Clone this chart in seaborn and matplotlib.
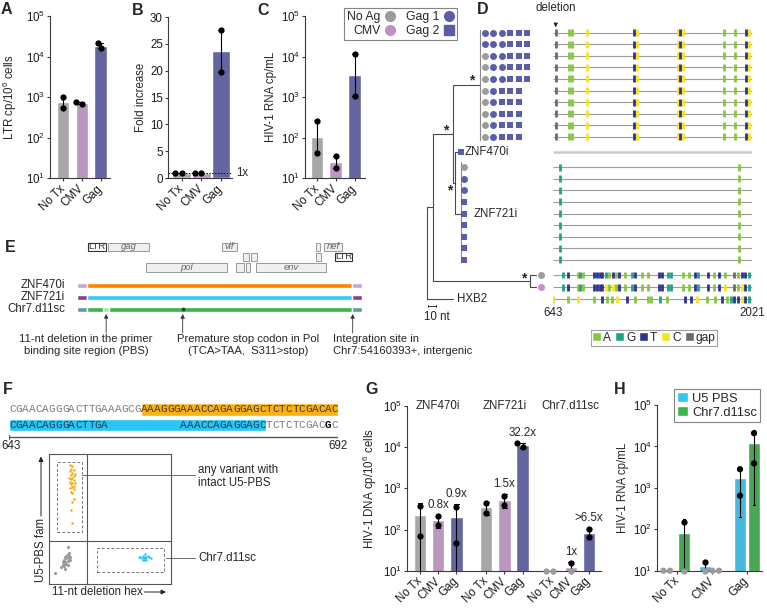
import numpy as np
import pandas as pd
import matplotlib
matplotlib.use("Agg")
import matplotlib.pyplot as plt
from matplotlib.lines import Line2D
from matplotlib.patches import Patch, Rectangle
from matplotlib.ticker import LogFormatterSciNotation, NullLocator
import seaborn as sns

# ---------------- data ----------------
conds = ["No Tx", "CMV", "Gag"]
LOD = 10

# A: LTR copies per 10^6 cells (two donors)
ltr_notx = [1020, 525]
ltr_cmv = [660, 740]
ltr_gag = [21900, 15800]
# B: fold increase
fold_notx = [1.0, 1.0]
fold_cmv = [0.85, 0.85]
fold_gag = [27.5, 19.7]
# C: HIV-1 RNA cp/mL
rna_notx = [255, 41]
rna_cmv = [34, 17.6]
rna_gag = [11400, 1040]

# G: clone specific DNA
clones = ["ZNF470i", "ZNF721i", "Chr7.d11sc"]
znf470_dna = [[370, 70], [212, 129], [347, 46]]
znf721_dna = [[433, 256], [660, 393], [9890, 12300]]
chr7_dna = [[10, 10], [10, 15], [101, 67]]
fold_labels = ["", "0.8x", "0.9x", "", "1.5x", "32.2x", "", "1x", ">6.5x"]

# H: clone specific RNA
h_series = ["U5 PBS", "Chr7.d11sc"]
u5_rna = [[10, 10], [16.5, 10], [2820, 646]]
chr7_rna = [[152, 10], [10, 10], [20900, 3900]]

# D: tree leaves (g = No Ag, p = CMV, b = Gag 1, s = Gag 2)
top_leaves = ["bbbsss", "bbbsss", "gbbsss", "gbbsss", "gbbsss",
              "gbsss", "gbsss", "gbsss", "gbsss", "gbsss"]
low_leaves = ["g", "b", "b", "s", "s", "s", "s", "s", "s"]
pair_leaves = ["g", "p"]
top_mut_pos = [662, 756, 777, 880, 1206, 1227, 1511, 1525, 1546, 1827, 1903, 1977, 1998]
top_mut_base = ["gap", "A", "A", "C", "T", "C", "C", "T", "C", "A", "A", "T", "C"]
low_mut_pos = [691, 1933]
low_mut_base = ["G", "A"]
noag_mut_pos = [710, 749, 814, 832, 853, 929, 948, 966, 985, 1010, 1033, 1056, 1077, 1100,
                1142, 1192, 1211, 1257, 1303, 1377, 1396, 1442, 1460, 1546, 1585, 1626,
                1645, 1714, 1760, 1793, 1834, 1899, 1926, 1950, 1973, 2000]
noag_mut_base = ["G", "T", "A", "G", "A", "T", "T", "T", "T", "G", "A", "T", "A", "T",
                 "A", "G", "T", "A", "A", "T", "T", "G", "G", "A", "A", "T",
                 "G", "T", "A", "T", "A", "gap", "A", "T", "T", "G"]
cmv_mut_pos = [710, 749, 814, 832, 853, 929, 948, 966, 985, 1010, 1033, 1056, 1077, 1100,
               1142, 1192, 1211, 1257, 1303, 1377, 1396, 1442, 1460, 1546, 1585, 1626,
               1645, 1714, 1760, 1793, 1834, 1899, 1926, 1950, 1973, 2000]
cmv_mut_base = ["G", "T", "A", "G", "A", "T", "T", "T", "T", "C", "A", "C", "A", "T",
                "A", "G", "T", "A", "A", "T", "T", "G", "G", "A", "A", "T",
                "G", "T", "A", "T", "C", "gap", "A", "C", "T", "G"]
hxb2_mut_pos = [645, 749, 818, 929, 980, 1015, 1049, 1084, 1153, 1211, 1303, 1322, 1384, 1430,
                1557, 1597, 1638, 1707, 1765, 1811, 1846, 1876, 1899, 1926, 1950, 1972, 2000]
hxb2_mut_base = ["C", "A", "C", "A", "T", "A", "A", "C", "T", "A", "A", "A", "G", "A",
                 "T", "T", "C", "A", "A", "T", "A", "G", "T", "T", "C", "T", "G"]
aln_start, aln_end = 643, 2021

# E: genome map (HXB2 nt)
gene_names = ["LTR", "gag", "vif", "", "nef", "", "", "", "LTR", "pol", "", "", "env"]
gene_start = [26, 790, 4989, 8470, 8778, 5767, 6074, 8470, 9185, 2174, 5519, 5889, 6259]
gene_end = [692, 2292, 5567, 8630, 9456, 6000, 6296, 8650, 9826, 5174, 5826, 6037, 8840]
gene_row = [0, 0, 0, 0, 0, 1, 1, 1, 1, 2, 2, 2, 2]
provirus_names = ["ZNF470i", "ZNF721i", "Chr7.d11sc"]
genome_start, genome_end, flank_len = 0, 9826, 359
pbs_del = (604, 815)
stop_codon = 3544
integration = 9840

# F: sequences
seq_ref = "CGAACAGGGACTTGAAAGCGAAAGGGAAACCAGAGGAGCTCTCTCGACAC"
seq_del = "CGAACAGGGACTTGA           AAACCAGAGGAGCTCTCTCGACGC"
ref_hl = (20, 50)
del_hl = (0, 39)
snp_idx = 48
seq_first, seq_last = 643, 692
orange_x = [0.17, 0.19, 0.18, 0.20, 0.17, 0.19, 0.21, 0.18, 0.20, 0.16, 0.19, 0.18, 0.20, 0.17,
            0.19, 0.21, 0.18, 0.20, 0.19, 0.17, 0.20, 0.18, 0.19, 0.20, 0.19, 0.18, 0.19]
orange_y = [0.92, 0.91, 0.89, 0.88, 0.87, 0.86, 0.85, 0.84, 0.83, 0.82, 0.82, 0.81, 0.80, 0.79,
            0.78, 0.78, 0.77, 0.76, 0.75, 0.74, 0.73, 0.71, 0.70, 0.66, 0.63, 0.57, 0.47]
grey_x = [0.10, 0.11, 0.12, 0.13, 0.12, 0.14, 0.15, 0.13, 0.16, 0.14, 0.15, 0.17, 0.16,
          0.13, 0.11, 0.15, 0.17, 0.14, 0.12, 0.16, 0.157, 0.05]
grey_y = [0.13, 0.15, 0.14, 0.17, 0.19, 0.16, 0.18, 0.21, 0.20, 0.22, 0.23, 0.21, 0.24,
          0.12, 0.17, 0.15, 0.19, 0.20, 0.16, 0.22, 0.29, 0.09]
cyan_x = [0.74, 0.76, 0.77, 0.78, 0.79, 0.80, 0.78, 0.79, 0.81, 0.77, 0.80, 0.82, 0.75, 0.79, 0.84]
cyan_y = [0.21, 0.20, 0.22, 0.21, 0.20, 0.21, 0.19, 0.23, 0.22, 0.19, 0.19, 0.21, 0.21, 0.20, 0.20]

# ---------------- style ----------------
FS = 8.3
sns.set_theme(style="ticks")
plt.rcParams.update({
    "font.family": ["Liberation Sans", "DejaVu Sans"],
    "mathtext.fontset": "custom",
    "mathtext.rm": "Liberation Sans",
    "mathtext.default": "regular",
    "font.size": FS,
    "axes.linewidth": 0.8,
    "axes.edgecolor": "#3a3a3a",
    "xtick.color": "#3a3a3a",
    "ytick.color": "#3a3a3a",
    "xtick.labelcolor": "#1a1a1a",
    "ytick.labelcolor": "#1a1a1a",
    "xtick.major.size": 2.5,
    "ytick.major.size": 2.5,
    "xtick.major.width": 0.8,
    "ytick.major.width": 0.8,
    "ytick.major.pad": 1.0,
    "xtick.labelsize": FS,
    "ytick.labelsize": FS,
    "axes.labelsize": FS,
})

NOTX_C, CMV_C, GAG_C = "#a7a7a7", "#c18fc5", "#5a5daa"
DOT_GREY = "#9b9b9b"
cond_pal = dict(zip(conds, [NOTX_C, CMV_C, GAG_C]))
h_pal = {"U5 PBS": "#2ec6f3", "Chr7.d11sc": "#3ab54a"}
base_col = {"A": "#86c540", "G": "#1ea482", "T": "#2f338f", "C": "#f8e31c", "gap": "#6b6b6b"}
flank_cols = ["#c9a3d4", "#8a3d96", "#5e9c9c"]
body_cols = ["#ff8300", "#33c9f5", "#3bb44a"]
err_kw = {"color": "black", "linewidth": 0.8}

W, H = 767, 612
fig = plt.figure(figsize=(W / 100, H / 100), dpi=100)


def px_axes(l, t, r, b):
    ax = fig.add_axes([l / W, 1 - b / H, (r - l) / W, (b - t) / H])
    ax.set_facecolor("none")
    return ax


def long_df(groups, values):
    return pd.DataFrame([(g, v) for g, vs in zip(groups, values) for v in vs],
                        columns=["cond", "val"])


def sd_clip(v):
    m, s = v.mean(), v.std()
    return (max(m - s, 1.0), m + s)


def log_axis(ax):
    ax.set_yscale("log")
    ax.set_ylim(10, 1e5)
    ax.set_yticks([1e1, 1e2, 1e3, 1e4, 1e5])
    ax.yaxis.set_major_formatter(LogFormatterSciNotation())
    ax.yaxis.set_minor_locator(NullLocator())


def finish(ax, labels, ticks=None):
    sns.despine(ax=ax)
    ax.set_xlabel("")
    ax.set_ylabel("")
    ax.set_xticks(list(range(len(labels))) if ticks is None else list(ticks))
    ax.set_xticklabels(labels, rotation=45, ha="right", va="center", rotation_mode="anchor")
    ax.tick_params(axis="x", pad=4)


dot_kw = dict(size=4.5, clip_on=False, zorder=5)

# ---------------- A ----------------
axA = px_axes(50, 16, 110, 178)
log_axis(axA)
dfA = long_df(conds, [ltr_notx, ltr_cmv, ltr_gag])
sns.barplot(data=dfA, x="cond", y="val", hue="cond", order=conds, palette=cond_pal,
            errorbar=("pi", 100), capsize=0.25, err_kws=err_kw, width=0.65, legend=False, ax=axA)
sns.swarmplot(data=dfA, x="cond", y="val", order=conds, color="black", ax=axA, **dot_kw)
log_axis(axA)
axA.set_xlim(-0.69, 2.5)
finish(axA, conds)
axA.set_ylabel("LTR cp/10$^6$ cells")
axA.yaxis.set_label_coords(-0.52, 0.5)

# ---------------- B ----------------
axB = px_axes(167.7, 17, 232, 178)
dfB = long_df(conds, [fold_notx, fold_cmv, fold_gag])
sns.barplot(data=dfB, x="cond", y="val", hue="cond", order=conds, palette=cond_pal,
            errorbar=("pi", 100), capsize=0.25, err_kws=err_kw, width=0.95, legend=False, ax=axB)
axB.axhline(1, color="black", lw=0.7, ls=(0, (1.5, 1.5)), zorder=1)
sns.swarmplot(data=dfB, x="cond", y="val", order=conds, color="black", ax=axB, **dot_kw)
axB.set_ylim(0, 30)
axB.set_yticks(range(0, 31, 5))
axB.set_xlim(-0.7, 2.56)
finish(axB, conds)
axB.text(2.75, 1, "1x", ha="left", va="center", fontsize=FS)
axB.set_ylabel("Fold increase")
axB.yaxis.set_label_coords(-0.32, 0.5)

# ---------------- C ----------------
axC = px_axes(305, 16, 365, 178)
log_axis(axC)
dfC = long_df(conds, [rna_notx, rna_cmv, rna_gag])
sns.barplot(data=dfC, x="cond", y="val", hue="cond", order=conds, palette=cond_pal,
            errorbar=("pi", 100), capsize=0.25, err_kws=err_kw, width=0.67, legend=False, ax=axC)
sns.swarmplot(data=dfC, x="cond", y="val", order=conds, color="black", ax=axC, **dot_kw)
log_axis(axC)
axC.set_xlim(-0.64, 2.56)
finish(axC, conds)
axC.set_ylabel("HIV-1 RNA cp/mL")
axC.yaxis.set_label_coords(-0.47, 0.5)

leg_handles = [
    Line2D([], [], ls="none", marker="o", ms=7, color=DOT_GREY, label="No Ag"),
    Line2D([], [], ls="none", marker="o", ms=7, color=CMV_C, label="CMV"),
    Line2D([], [], ls="none", marker="o", ms=7, color=GAG_C, label="Gag 1"),
    Line2D([], [], ls="none", marker="s", ms=6.5, color=GAG_C, label="Gag 2"),
]
legC = fig.legend(handles=leg_handles, ncol=2, loc="upper left",
                  bbox_to_anchor=(338 / W, 1 - 2 / H), frameon=True, fancybox=False,
                  markerfirst=False, fontsize=8.8, handlelength=0.9, handletextpad=0.3,
                  columnspacing=0.9, borderpad=0.25, labelspacing=0.15, edgecolor="#666")
legC.get_frame().set_linewidth(0.8)

# ---------------- D: tree ----------------
top_rows = np.arange(len(top_leaves), dtype=float)
znf470_row = top_rows[-1] + 1.3
low_rows = znf470_row + 1.3 + np.arange(len(low_leaves))
pair_rows = low_rows[-1] + 1.3 + np.arange(len(pair_leaves)) * 1.05
hxb2_row = pair_rows[-1] + 1.05
ylims = (24.78, -1.08)

axT = px_axes(420, 20, 552, 320)
axT.axis("off")
axT.set_xlim(-8.07, 151)
axT.set_ylim(*ylims)

tree_x = {"root": 0, "N1": 8, "N2": 32, "N3": 64, "N4": 34, "ZNF470i": 38,
          "N6": 41, "N5": 124.5, "HXB2": 32}
node_y = {"N3": top_rows.mean(), "ZNF470i": znf470_row, "N6": low_rows.mean(),
          "N5": pair_rows.mean(), "HXB2": hxb2_row}
tree_edges = [("N4", ["ZNF470i", "N6"]), ("N2", ["N3", "N4"]),
              ("N1", ["N2", "N5"]), ("root", ["N1", "HXB2"])]
line_kw = dict(color="#4a4a4a", lw=0.8)
for parent, kids in tree_edges:
    node_y[parent] = np.mean([node_y[k] for k in kids])
    axT.plot([tree_x[parent]] * 2, [node_y[kids[0]], node_y[kids[1]]], **line_kw)
    for k in kids:
        axT.plot([tree_x[parent], tree_x[k]], [node_y[k]] * 2, **line_kw)

clus_kw = dict(color="#8a8a8a", lw=0.8)
axT.plot([tree_x["N3"]] * 2, [top_rows[0] - 0.25, top_rows[-1] + 0.25], **clus_kw)
axT.plot([tree_x["N6"]] * 2, [low_rows[0] - 0.4, low_rows[-1] + 0.2], **clus_kw)
axT.plot([tree_x["N5"]] * 2, [pair_rows[0], pair_rows[1]], **line_kw)
for r in pair_rows:
    axT.plot([tree_x["N5"], tree_x["N5"] + 7.2], [r, r], **line_kw)

sym_style = {"g": ("o", DOT_GREY), "p": ("o", CMV_C), "b": ("o", GAG_C), "s": ("s", GAG_C)}


def leaf(x, r, ch):
    m, c = sym_style[ch]
    axT.plot(x, r, ls="none", marker=m, color=c, ms=5.0 if m == "o" else 4.6, mew=0)


for r, syms in zip(top_rows, top_leaves):
    for k, ch in enumerate(syms):
        leaf(70.3 + 10.2 * k, r, ch)
for r, ch in zip(low_rows, low_leaves):
    leaf(45, r, ch)
for r, ch in zip(pair_rows, pair_leaves):
    leaf(137.7, r, ch)
leaf(41.3, znf470_row, "s")
axT.text(45.5, znf470_row, "ZNF470i", ha="left", va="center", fontsize=FS)
axT.text(56, low_rows[4], "ZNF721i", ha="left", va="center", fontsize=FS)
axT.text(36.4, hxb2_row, "HXB2", ha="left", va="center", fontsize=FS)

star_offsets = {"N2": (-7.6, -3.5), "N3": (-7.7, -3.8), "N4": (-5.7, 8), "N5": (-6, -2.5)}
for node, (dx, dy) in star_offsets.items():
    axT.annotate("*", (tree_x[node], node_y[node]), xytext=(dx * 0.72, -dy * 0.72),
                 textcoords="offset points", ha="center", va="center",
                 fontsize=10, fontweight="bold")

axT.plot([1.2, 11.2], [23.58, 23.58], color="#333", lw=0.7)
axT.plot([1.2, 1.2], [23.45, 23.7], color="#333", lw=0.7)
axT.plot([11.2, 11.2], [23.45, 23.7], color="#333", lw=0.7)
axT.text(12, 24.5, "10 nt", ha="center", va="center", fontsize=FS)

# ---------------- D: alignment ----------------
axL = px_axes(553, 20, 752, 320)
axL.axis("off")
axL.set_xlim(aln_start, aln_end)
axL.set_ylim(*ylims)
plain_rows = np.concatenate([top_rows, low_rows, pair_rows, [hxb2_row]])
axL.hlines(plain_rows, aln_start, aln_end, color="#9d9d9d", lw=0.8)
axL.hlines(znf470_row, aln_start, aln_end, color="#cacaca", lw=1.8)


def mut_ticks(rows, pos, base):
    for r in rows:
        axL.vlines(pos, r - 0.3, r + 0.3, colors=[base_col[b] for b in base], lw=2.0)


mut_ticks(top_rows, top_mut_pos, top_mut_base)
mut_ticks(low_rows, low_mut_pos, low_mut_base)
mut_ticks([pair_rows[0]], noag_mut_pos, noag_mut_base)
mut_ticks([pair_rows[1]], cmv_mut_pos, cmv_mut_base)
mut_ticks([hxb2_row], hxb2_mut_pos, hxb2_mut_base)
axL.annotate("deletion", xy=(top_mut_pos[0], -0.45), xytext=(top_mut_pos[0], -2.1),
             ha="center", va="center", fontsize=FS, annotation_clip=False,
             arrowprops=dict(arrowstyle="-|>", color="#222", lw=0.6, mutation_scale=6,
                             shrinkA=4, shrinkB=0))
axL.text(aln_start, 24.2, str(aln_start), ha="center", va="center", fontsize=FS)
axL.text(aln_end, 24.2, str(aln_end), ha="center", va="center", fontsize=FS)

legD = fig.legend(handles=[Patch(facecolor=base_col[b], label=b) for b in base_col],
                  ncol=5, loc="upper center", bbox_to_anchor=(654 / W, 1 - 324 / H),
                  frameon=True, fancybox=False, fontsize=8.6, handlelength=0.75,
                  handleheight=0.75, handletextpad=0.15, columnspacing=0.35, borderpad=0.15,
                  edgecolor="#888")
legD.get_frame().set_linewidth(0.8)

# ---------------- E ----------------
axE = px_axes(0, 235, 380, 362)
axE.axis("off")
axE.set_xlim(-87 / 0.027, 293 / 0.027)
axE.set_ylim(362, 235)
row_y = [246.7, 256.9, 267.5]
for name, s, e, r in zip(gene_names, gene_start, gene_end, gene_row):
    ltr = name == "LTR"
    axE.add_patch(Rectangle((s, row_y[r] - 4.2), e - s, 8.4,
                            fc="white" if ltr else "#efefef",
                            ec="#333" if ltr else "#8a8a8a", lw=0.8 if ltr else 0.6))
    if name:
        axE.text((s + e) / 2, row_y[r], name, ha="center", va="center", fontsize=6.8,
                 style="normal" if ltr else "italic", color="#333" if ltr else "#666")

prov_y = [285, 297.3, 309]
for name, y, fc, bc in zip(provirus_names, prov_y, flank_cols, body_cols):
    axE.barh(y, flank_len, left=genome_start - flank_len, height=5, color=fc)
    axE.barh(y, genome_end - genome_start, left=genome_start, height=5, color=bc)
    axE.barh(y, flank_len, left=genome_end, height=5, color=fc)
    axE.text(-815, y, name, ha="right", va="center", fontsize=FS)
axE.barh(prov_y[2], pbs_del[1] - pbs_del[0], left=pbs_del[0], height=5, color="#b8e2b5")
axE.plot(stop_codon, prov_y[2], marker="o", ms=1.8, color="#1d4d1d")

notes = [
    ((pbs_del[0] + pbs_del[1]) / 2, -37, "center",
     "11-nt deletion in the primer\nbinding site region (PBS)"),
    (stop_codon, 5956, "center", "Premature stop codon in Pol\n(TCA>TAA,  S311>stop)"),
    (integration, 9122, "left", "Integration site in\nChr7:54160393+, intergenic"),
]
for ax_x, tx, ha, txt in notes:
    axE.annotate("", xy=(ax_x, 314), xytext=(ax_x, 333),
                 arrowprops=dict(arrowstyle="-|>", color="#333", lw=0.6, mutation_scale=6,
                                 shrinkA=0, shrinkB=0))
    axE.text(tx, 334.5, txt, ha=ha, va="top", fontsize=8.1, linespacing=1.25,
             multialignment="center" if ha == "center" else "left")

# ---------------- F: sequences ----------------
axS = px_axes(9.3, 398, 338.3, 452)
axS.axis("off")
axS.set_xlim(0, len(seq_ref))
axS.set_ylim(452, 398)
axS.barh(409.5, ref_hl[1] - ref_hl[0], left=ref_hl[0], height=12.4, color="#fbb116")
axS.barh(425, del_hl[1] - del_hl[0], left=del_hl[0], height=12, color="#2ac5f4")
mono = dict(family="Liberation Mono", fontsize=7.9, ha="center", va="center")
for i, ch in enumerate(seq_ref):
    axS.text(i + 0.5, 409.5, ch, color="#3c3c3c" if ref_hl[0] <= i < ref_hl[1] else "#7a7a7a", **mono)
for i, ch in enumerate(seq_del):
    if ch == " ":
        continue
    inside = del_hl[0] <= i < del_hl[1]
    axS.text(i + 0.5, 425, ch, color="black" if i == snp_idx else ("#1f3f55" if inside else "#7a7a7a"),
             fontweight="bold" if i == snp_idx else "normal", **mono)
axS.plot([0, len(seq_ref)], [436.7, 436.7], color="#555", lw=1.0)
axS.plot([0, 0], [435, 439.5], color="#555", lw=0.8)
axS.plot([len(seq_ref)] * 2, [435, 439.5], color="#555", lw=0.8)
axS.text(0.25, 446.5, str(seq_first), ha="center", va="center", fontsize=FS)
axS.text(len(seq_ref), 446.5, str(seq_last), ha="center", va="center", fontsize=FS)

# ---------------- F: ddPCR ----------------
axF = px_axes(49.3, 454.3, 170.7, 584.3)
axF.set_xlim(0, 1)
axF.set_ylim(0, 1)
axF.set_xticks([])
axF.set_yticks([])
for sp in axF.spines.values():
    sp.set_color("#555")
    sp.set_linewidth(0.8)
axF.axvline(0.313, color="#555", lw=0.8)
axF.axhline(0.333, color="#555", lw=0.8)
axF.add_patch(Rectangle((0.066, 0.405), 0.201, 0.538, fill=False, ls=(0, (3, 2)), ec="#777", lw=0.7))
axF.add_patch(Rectangle((0.395, 0.092), 0.552, 0.185, fill=False, ls=(0, (3, 2)), ec="#777", lw=0.7))
axF.scatter(orange_x, orange_y, s=3, color="#f4a700", lw=0)
axF.scatter(grey_x, grey_y, s=5, color="#9a9a9a", lw=0)
axF.scatter(cyan_x, cyan_y, s=3, color="#2cc4f0", lw=0)

# ---------------- G ----------------
axG = px_axes(407.3, 406, 600.7, 570.7)
rows = []
for gi, vals in enumerate([znf470_dna, znf721_dna, chr7_dna]):
    for ci, cond in enumerate(conds):
        for v in vals[ci]:
            rows.append((clones[gi], cond, gi * 3.65 + ci, v))
dfG = pd.DataFrame(rows, columns=["clone", "cond", "pos", "val"])
sns.barplot(data=dfG, x="pos", y="val", hue="cond", palette=cond_pal, native_scale=True,
            dodge=False, errorbar=sd_clip, capsize=0.25, err_kws=err_kw, width=0.68,
            legend=False, ax=axG)
log_axis(axG)
sns.swarmplot(data=dfG[dfG.val > LOD], x="pos", y="val", native_scale=True, color="black",
              ax=axG, **dot_kw)
sns.swarmplot(data=dfG[dfG.val <= LOD], x="pos", y="val", native_scale=True, color=DOT_GREY,
              ax=axG, **dot_kw)
log_axis(axG)
positions = sorted(dfG.pos.unique())
axG.set_xlim(-0.7, positions[-1] + 0.65)
finish(axG, conds * len(clones), positions)
stats = dfG.groupby("pos")["val"].agg(["mean", "std", "max"])
for (pos, st), lab in zip(stats.iterrows(), fold_labels):
    if lab:
        axG.annotate(lab, (pos, max(st["mean"] + st["std"], st["max"])), xytext=(0, 3),
                     textcoords="offset points", ha="center", va="bottom", fontsize=FS)
for gi, clone in enumerate(clones):
    axG.text(gi * 3.65 + 1, 1e5, clone, ha="center", va="center", fontsize=FS)
axG.set_ylabel("HIV-1 DNA cp/10$^6$ cells")
axG.yaxis.set_label_coords(-0.146, 0.5)

# ---------------- H ----------------
axH = px_axes(656.7, 405, 761.7, 570.7)
rows = [(s, c, v) for s, vals in zip(h_series, [u5_rna, chr7_rna])
        for c, vs in zip(conds, vals) for v in vs]
dfH = pd.DataFrame(rows, columns=["series", "cond", "val"])
sns.barplot(data=dfH, x="cond", y="val", hue="series", order=conds, hue_order=h_series,
            palette=h_pal, errorbar=sd_clip, capsize=0.15, err_kws=err_kw, width=0.82,
            gap=0.14, legend=False, ax=axH)
log_axis(axH)
for mask, col in [(dfH.val > LOD, "black"), (dfH.val <= LOD, DOT_GREY)]:
    sns.swarmplot(data=dfH[mask], x="cond", y="val", hue="series", order=conds,
                  hue_order=h_series, palette={s: col for s in h_series}, dodge=True,
                  legend=False, ax=axH, **dot_kw)
log_axis(axH)
axH.set_xlim(-0.58, 2.42)
finish(axH, conds)
axH.set_ylabel("HIV-1 RNA cp/mL")
axH.yaxis.set_label_coords(-0.264, 0.5)
legH = fig.legend(handles=[Patch(facecolor=h_pal[s], label=s) for s in h_series],
                  loc="upper left", bbox_to_anchor=(667.7 / W, 1 - 382.7 / H), frameon=True,
                  fancybox=False, fontsize=9.3, handlelength=0.8, handleheight=0.8,
                  handletextpad=0.35, borderpad=0.25, labelspacing=0.1, edgecolor="#666")
legH.get_frame().set_linewidth(0.8)

# ---------------- overlay: letters and callouts ----------------
ov = fig.add_axes([0, 0, 1, 1])
ov.set_xlim(0, W)
ov.set_ylim(H, 0)
ov.axis("off")
panel_letters = {"A": (6.7, 10), "B": (138, 10.5), "C": (263.5, 10.5), "D": (483, 9.5),
                 "E": (10.5, 247.5), "F": (7.5, 390), "G": (371.7, 390), "H": (620, 390)}
for lab, (x, y) in panel_letters.items():
    ov.text(x, y, lab, ha="center", va="center", fontsize=11.5, fontweight="bold")

arrow_kw = dict(arrowstyle="-|>", color="#222", lw=0.7, mutation_scale=7, shrinkA=0, shrinkB=0)
ov.text(41, 550, "U5-PBS fam", rotation=90, ha="center", va="center", fontsize=FS)
ov.annotate("", xy=(41, 456.5), xytext=(41, 516), arrowprops=arrow_kw)
ov.text(97, 592, "11-nt deletion hex", ha="center", va="center", fontsize=FS)
ov.annotate("", xy=(166, 592), xytext=(144.5, 592), arrowprops=arrow_kw)
ov.plot([81.7, 195], [475, 475], color="#555", lw=0.6)
ov.text(198.5, 476.5, "any variant with\nintact U5-PBS", ha="left", va="center",
        fontsize=FS, linespacing=1.15)
ov.plot([165.7, 195], [558.3, 558.3], color="#555", lw=0.6)
ov.text(198.5, 558.3, "Chr7.d11sc", ha="left", va="center", fontsize=FS)

fig.savefig("out.png", dpi=100)
